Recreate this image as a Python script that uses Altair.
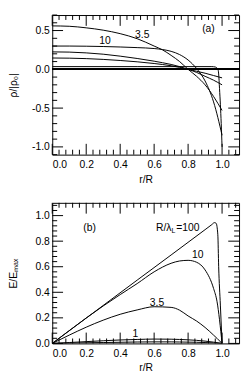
import altair as alt
import pandas as pd

# ---------------- data ----------------
# panel (a): rho/|rho0| versus r/R
r_a = [0.0, 0.1, 0.2, 0.3, 0.4, 0.5, 0.6, 0.65, 0.7, 0.75, 0.8, 0.85, 0.9, 0.95, 1.0]
rho_35 = [0.56, 0.555, 0.535, 0.505, 0.46, 0.395, 0.30, 0.25, 0.18, 0.10, 0.0, -0.09, -0.2, -0.35, -0.53]
rho_10 = [0.30, 0.30, 0.298, 0.294, 0.288, 0.28, 0.268, 0.255, 0.232, 0.19, 0.12, 0.01, -0.15, -0.42, -0.85]
rho_p = [0.225, 0.222, 0.212, 0.195, 0.17, 0.14, 0.105, 0.085, 0.063, 0.035, 0.0, -0.04, -0.09, -0.14, -0.2]
rho_q = [0.146, 0.144, 0.138, 0.128, 0.114, 0.097, 0.075, 0.062, 0.046, 0.025, 0.0, -0.025, -0.05, -0.08, -0.11]
r_a100 = [0.0, 0.5, 0.94, 0.96, 0.975, 0.98, 0.985, 0.99, 0.995, 1.0]
rho_100 = [0.035, 0.035, 0.035, 0.03, 0.005, -0.06, -0.25, -0.45, -0.7, -1.0]

# panel (b): E/Emax versus r/R
r_b = [0.0, 0.1, 0.2, 0.3, 0.4, 0.5, 0.6, 0.7, 0.75, 0.8, 0.85, 0.9, 0.95, 0.97, 1.0]
E_10 = [0.0, 0.1, 0.199, 0.293, 0.382, 0.468, 0.56, 0.627, 0.645, 0.65, 0.635, 0.575, 0.43, 0.33, 0.0]
E_35 = [0.0, 0.065, 0.127, 0.182, 0.228, 0.262, 0.287, 0.282, 0.26, 0.215, 0.175, 0.125, 0.065, 0.04, 0.0]
E_1 = [0.0, 0.007, 0.014, 0.021, 0.027, 0.031, 0.034, 0.033, 0.031, 0.028, 0.024, 0.018, 0.01, 0.006, 0.0]
E_03 = [0.0, 0.002, 0.005, 0.007, 0.009, 0.011, 0.012, 0.012, 0.011, 0.01, 0.009, 0.007, 0.004, 0.002, 0.0]
r_b100 = [0.0, 0.5, 0.9, 0.94, 0.955, 0.965, 0.975, 0.98, 0.99, 1.0]
E_100 = [0.0, 0.495, 0.89, 0.93, 0.945, 0.94, 0.85, 0.6, 0.3, 0.0]

# labels
a_text = ["3.5", "10", "(a)"]
a_tr = [0.53, 0.31, 0.92]
a_tv = [0.44, 0.37, 0.52]
b_text = ["(b)", "10", "3.5", "1"]
b_tr = [0.22, 0.857, 0.617, 0.49]
b_tv = [0.9, 0.69, 0.318, 0.07]

# ticks
x_major = [0.0, 0.2, 0.4, 0.6, 0.8, 1.0]
x_minor = [0.04, 0.08, 0.12, 0.16, 0.24, 0.28, 0.32, 0.36, 0.44, 0.48, 0.52, 0.56,
           0.64, 0.68, 0.72, 0.76, 0.84, 0.88, 0.92, 0.96, 1.04, 1.08]
ya_major = [-1.0, -0.5, 0.0, 0.5]
ya_minor = [-1.1, -0.9, -0.8, -0.7, -0.6, -0.4, -0.3, -0.2, -0.1, 0.1, 0.2, 0.3, 0.4, 0.6, 0.7]
yb_major = [0.0, 0.2, 0.4, 0.6, 0.8, 1.0]
yb_minor = [0.04, 0.08, 0.12, 0.16, 0.24, 0.28, 0.32, 0.36, 0.44, 0.48, 0.52, 0.56,
            0.64, 0.68, 0.72, 0.76, 0.84, 0.88, 0.92, 0.96, 1.04, 1.08]

FONT = "Liberation Sans"
FS = 10.5
W = 190
XDOM = [0, 1.1]
LBL = "datum.value < 0 ? '-' + format(-datum.value, '.1f') : format(datum.value, '.1f')"


def series(rs, vs, name):
    return pd.DataFrame({"r": rs, "v": vs, "s": name})


def make_encs(ydom, ymaj, ytitle, H):
    xs = alt.Scale(domain=XDOM, nice=False, zero=False)
    ys = alt.Scale(domain=ydom, nice=False, zero=False)
    ax = alt.Axis(values=x_major, labelExpr=LBL, title="r/R", titleY=20, titleBaseline="top",
                  labelPadding=5, labelBaseline="top")
    ay = alt.Axis(values=ymaj, labelExpr=LBL, title=ytitle, titleX=-36, titleY=H / 2, titleAngle=-90,
                  titleAlign="center", titleBaseline="alphabetic", labelPadding=3)

    def X(field):
        return alt.X(field, scale=xs, axis=ax)

    def Y(field):
        return alt.Y(field, scale=ys, axis=ay)
    return X, Y


def panel(df, ydom, ymaj, ymin, ytitle, H, texts, zero=False, extra=None):
    X, Y = make_encs(ydom, ymaj, ytitle, H)
    layers = [alt.Chart(df).mark_line(color="black", strokeWidth=1, interpolate="monotone", clip=True).encode(
        x=X("r:Q"), y=Y("v:Q"), detail="s:N")]
    if zero:
        layers.append(alt.Chart(df).mark_rule(color="black", strokeWidth=1).encode(y=Y("zv:Q")).transform_calculate(zv="0"))
    for vals, ln in ((x_major, 11), (x_minor, 5)):
        base = alt.Chart(pd.DataFrame({"t": vals})).mark_rule(color="black", strokeWidth=1)
        layers.append(base.encode(x=X("t:Q"), y=alt.value(H), y2=alt.value(H - ln)))
        layers.append(base.encode(x=X("t:Q"), y=alt.value(0), y2=alt.value(ln)))
    for vals, ln in ((ymaj, 11), (ymin, 5)):
        base = alt.Chart(pd.DataFrame({"t": vals})).mark_rule(color="black", strokeWidth=1)
        layers.append(base.encode(y=Y("t:Q"), x=alt.value(0), x2=alt.value(ln)))
        layers.append(base.encode(y=Y("t:Q"), x=alt.value(W), x2=alt.value(W - ln)))
    layers.append(alt.Chart(texts).mark_text(font=FONT, fontSize=FS, color="black").encode(
        x=X("r:Q"), y=Y("v:Q"), text="t:N"))
    if extra is not None:
        for d, kw, txt in extra:
            layers.append(alt.Chart(d).mark_text(font=FONT, color="black", **kw).encode(
                x=X("r:Q"), y=Y("v:Q"), text=alt.value(txt)))
    return alt.layer(*layers).properties(width=W, height=H)


df_a = pd.concat([
    series(r_a, rho_35, "3.5"), series(r_a, rho_10, "10"), series(r_a, rho_p, "p"),
    series(r_a, rho_q, "q"), series(r_a100, rho_100, "100"),
])
df_b = pd.concat([
    series(r_b, E_10, "10"), series(r_b, E_35, "3.5"), series(r_b, E_1, "1"),
    series(r_b, E_03, "0.3"), series(r_b100, E_100, "100"),
])
ta = pd.DataFrame({"t": a_text, "r": a_tr, "v": a_tv})
tb = pd.DataFrame({"t": b_text, "r": b_tr, "v": b_tv})
lab = pd.DataFrame({"r": [0.725], "v": [0.9]})

pa = panel(df_a, [-1.1, 0.7], ya_major, ya_minor, "ρ/|ρ₀|", 142, ta, zero=True)
pb = panel(df_b, [0.0, 1.1], yb_major, yb_minor, "E/Eₘₐₓ", 143, tb, extra=[
    (lab, dict(fontSize=FS, align="right", dx=-4), "R/λ"),
    (lab, dict(fontSize=7, align="left", dx=-4, dy=3), "L"),
    (lab, dict(fontSize=FS, align="left", dx=1), "=100"),
])

chart = alt.vconcat(pa, pb, spacing=17).properties(
    padding={"left": 0, "top": 3, "right": 2, "bottom": 0}
).configure_view(stroke="black", strokeWidth=1).configure_axis(
    labelFont=FONT, labelFontSize=FS, labelColor="black", titleFont=FONT, titleFontSize=FS,
    titleFontWeight="normal", titleColor="black", ticks=False, domain=False, grid=False,
)

chart.save("out.html", embed_options={"renderer": "svg", "actions": False})
